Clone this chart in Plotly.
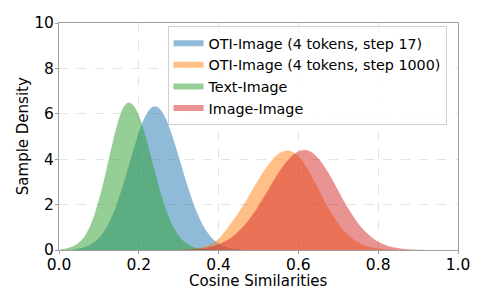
import plotly.graph_objects as go

# ---- data (histogram densities, bin width 0.01) ----
bin_width = 0.01
series_names = [
    "OTI-Image (4 tokens, step 17)",
    "OTI-Image (4 tokens, step 1000)",
    "Text-Image",
    "Image-Image",
]
series_colors = [
    "rgba(31,119,180,0.5)",
    "rgba(255,127,14,0.5)",
    "rgba(44,160,44,0.5)",
    "rgba(214,39,40,0.5)",
]

oti17_start = 0.03
oti17_density = [0.03, 0.05, 0.085, 0.13, 0.21, 0.31, 0.45, 0.64, 0.88, 1.20,
                 1.58, 2.03, 2.55, 3.12, 3.72, 4.32, 4.90, 5.43, 5.85, 6.15,
                 6.31, 6.31, 6.17, 5.88, 5.48, 4.97, 4.41, 3.82, 3.23, 2.66,
                 2.14, 1.68, 1.29, 0.96, 0.70, 0.50, 0.35, 0.24, 0.16, 0.10,
                 0.06, 0.04, 0.02, 0.01]

oti1000_start = 0.30
oti1000_density = [0.01, 0.02, 0.03, 0.045, 0.07, 0.10, 0.15, 0.21, 0.30, 0.42,
                   0.58, 0.80, 1.04, 1.28, 1.52, 1.78, 2.06, 2.36, 2.66, 2.96,
                   3.25, 3.52, 3.77, 3.99, 4.16, 4.29, 4.36, 4.38, 4.33, 4.21,
                   4.03, 3.79, 3.51, 3.19, 2.86, 2.52, 2.18, 1.86, 1.56, 1.29,
                   1.05, 0.84, 0.66, 0.51, 0.38, 0.29, 0.21, 0.15, 0.11, 0.076,
                   0.05, 0.035, 0.022, 0.014, 0.009, 0.005]

text_start = 0.0
text_density = [0.04, 0.06, 0.10, 0.16, 0.26, 0.41, 0.63, 0.95, 1.37, 1.90,
                2.53, 3.25, 4.02, 4.78, 5.47, 6.02, 6.38, 6.50, 6.40, 6.12,
                5.69, 5.12, 4.48, 3.81, 3.14, 2.51, 1.95, 1.47, 1.08, 0.76,
                0.53, 0.35, 0.23, 0.145, 0.09, 0.05, 0.03, 0.02, 0.01]

image_start = 0.30
image_density = [0.008, 0.012, 0.02, 0.03, 0.045, 0.065, 0.09, 0.13, 0.17, 0.22,
                 0.29, 0.37, 0.47, 0.60, 0.74, 0.91, 1.10, 1.31, 1.55, 1.81,
                 2.09, 2.38, 2.67, 2.97, 3.26, 3.53, 3.78, 3.99, 4.17, 4.30,
                 4.38, 4.41, 4.38, 4.28, 4.13, 3.93, 3.68, 3.40, 3.09, 2.77,
                 2.45, 2.13, 1.83, 1.55, 1.29, 1.06, 0.86, 0.69, 0.54, 0.42,
                 0.32, 0.24, 0.18, 0.13, 0.095, 0.067, 0.047, 0.032, 0.022, 0.015,
                 0.01, 0.006]

x_ticks = [0.0, 0.2, 0.4, 0.6, 0.8, 1.0]
y_ticks = [0, 2, 4, 6, 8, 10]
x_title = "Cosine Similarities"
y_title = "Sample Density"

series_starts = [oti17_start, oti1000_start, text_start, image_start]
series_values = [oti17_density, oti1000_density, text_density, image_density]

FONT = "DejaVu Sans, Liberation Sans, sans-serif"

fig = go.Figure()
for name, color, start, vals in zip(series_names, series_colors, series_starts, series_values):
    # histogram drawn as a fine-binned filled silhouette through bin centres
    centers = [round(start + bin_width * (i + 0.5), 4) for i in range(len(vals))]
    fig.add_trace(go.Scatter(
        x=centers, y=vals, name=name, mode="none",
        fill="tozeroy", fillcolor=color,
        line=dict(shape="spline", width=0),
    ))

fig.update_layout(
    width=487, height=305,
    margin=dict(l=51, r=37, t=15, b=63),
    paper_bgcolor="white", plot_bgcolor="white",
    font=dict(family=FONT, color="black", size=15),
    legend=dict(
        x=0.272, y=0.985, xanchor="left", yanchor="top",
        bgcolor="rgba(255,255,255,0.8)", bordercolor="#d0d0d0", borderwidth=1,
        font=dict(size=14.3, family=FONT), itemwidth=30,
        tracegroupgap=0,
    ),
    showlegend=True,
    annotations=[
        dict(text=x_title, x=0.5, y=-0.137, xref="paper", yref="paper",
             xanchor="center", yanchor="middle", showarrow=False,
             font=dict(size=15, family=FONT)),
        dict(text=y_title, x=-0.091, y=0.5, xref="paper", yref="paper",
             xanchor="center", yanchor="middle", showarrow=False, textangle=-90,
             font=dict(size=15, family=FONT)),
    ],
)
fig.update_xaxes(
    range=[0, 1], tickvals=x_ticks, ticktext=[f"{v:.1f}" for v in x_ticks],
    showgrid=True, gridcolor="#e3e3e3", griddash="dash", gridwidth=1,
    showline=True, linecolor="#a0a0a0", linewidth=1, mirror=True,
    ticks="outside", ticklen=3, tickcolor="#a0a0a0", ticklabelstandoff=-3,
    tickfont=dict(size=15.5), zeroline=False, automargin=False,
)
fig.update_yaxes(
    range=[0, 10], tickvals=y_ticks,
    showgrid=True, gridcolor="#e3e3e3", griddash="dash", gridwidth=1,
    showline=True, linecolor="#a0a0a0", linewidth=1, mirror=True,
    ticks="outside", ticklen=3, tickcolor="#a0a0a0", ticklabelstandoff=-2,
    tickfont=dict(size=15.5), zeroline=False, automargin=False,
)

fig.write_html("out.html")
